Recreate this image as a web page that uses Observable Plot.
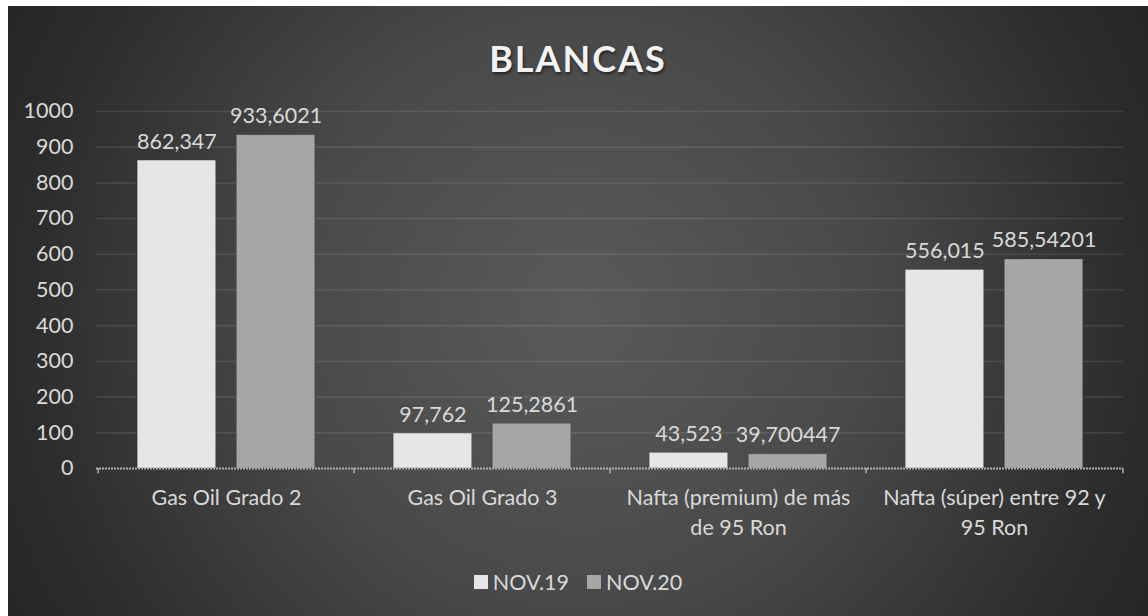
<!DOCTYPE html>
<html>
<head>
<meta charset="utf-8">
<script src="https://cdn.jsdelivr.net/npm/d3@7"></script>
<script src="https://cdn.jsdelivr.net/npm/@observablehq/plot@0.6"></script>
<style>
  html, body { margin: 0; padding: 0; background: #ffffff; }
  #card {
    position: absolute; left: 8px; top: 6px; width: 1140px; height: 610px;
    background: radial-gradient(circle farthest-corner at 50% 50%, #5a5a5a 0%, #494949 45%, #2d2d2d 85%, #262626 100%);
    font-family: Lato, "Open Sans", sans-serif; overflow: hidden;
  }
  #title {
    position: absolute; left: 0; width: 100%; top: 30px; text-align: center;
    font-size: 36px; font-weight: 700; letter-spacing: 2px; color: #f2f2f2;
    text-shadow: 1px 2px 3px rgba(0,0,0,0.55);
  }
  #chart { position: absolute; left: 0; top: 84px; }
  #legend {
    position: absolute; left: 0; width: 100%; top: 562px; text-align: center;
    font-size: 21.5px; color: #d9d9d9;
  }
  #legend .item { display: inline-flex; align-items: center; margin: 0 9px; }
  #legend .sw { width: 14px; height: 14px; display: inline-block; margin-right: 5px; }
</style>
</head>
<body>
<div id="card">
  <div id="title">BLANCAS</div>
  <div id="chart"></div>
  <div id="legend"></div>
</div>
<script>
const categories = ["Gas Oil Grado 2", "Gas Oil Grado 3", "Nafta (premium) de más de 95 Ron", "Nafta (súper) entre 92 y 95 Ron"];
const categoryLabels = ["Gas Oil Grado 2", "Gas Oil Grado 3", "Nafta (premium) de más\nde 95 Ron", "Nafta (súper) entre 92 y\n95 Ron"];
const series = ["NOV.19", "NOV.20"];
const nov19 = [862.347, 97.762, 43.523, 556.015];
const nov20 = [933.6021, 125.2861, 39.700447, 585.54201];
const yTicks = [0, 100, 200, 300, 400, 500, 600, 700, 800, 900, 1000];
const colors = ["#e6e6e6", "#a6a6a6"];

const W = 1140, H = 470, ML = 88, MR = 25, MT = 21, MB = 92;
const FS = 21.5;
const bw = (W - ML - MR) / categories.length;
const barW = 0.308 * bw, gap = 0.078 * bw, outer = (bw - 2 * barW - gap) / 2;
const centerOff = barW / 2 + gap / 2;

const rows = (vals, s) => categories.map((c, i) => ({cat: c, value: vals[i], series: s, label: String(vals[i]).replace(".", ",")}));
const d19 = rows(nov19, series[0]);
const d20 = rows(nov20, series[1]);
const labelOf = new Map(categories.map((c, i) => [c, categoryLabels[i]]));

const plot = Plot.plot({
  width: W, height: H,
  marginLeft: ML, marginRight: MR, marginTop: MT, marginBottom: MB,
  style: {background: "transparent", color: "#d9d9d9", fontFamily: "Lato, 'Open Sans', sans-serif", fontSize: FS + "px"},
  x: {domain: categories, padding: 0, label: null},
  y: {domain: [0, 1000], label: null},
  marks: [
    Plot.ruleY(yTicks.filter(d => d > 0), {stroke: "#ffffff", strokeOpacity: 0.1, strokeWidth: 1.5}),
    Plot.axisY({ticks: yTicks, tickSize: 0, tickPadding: 23, fontSize: FS, fill: "#d9d9d9", tickFormat: d => String(d), label: null}),
    Plot.axisX({tickSize: 0, tickPadding: 16, fontSize: FS, fill: "#d9d9d9", lineHeight: 1.36, tickFormat: d => labelOf.get(d), label: null}),
    Plot.barY(d19, {x: "cat", y: "value", fill: colors[0], insetLeft: outer, insetRight: bw - outer - barW, stroke: "#000", strokeOpacity: 0.15}),
    Plot.barY(d20, {x: "cat", y: "value", fill: colors[1], insetLeft: outer + barW + gap, insetRight: outer, stroke: "#000", strokeOpacity: 0.15}),
    Plot.ruleY([0], {stroke: "#b0b0b0", strokeWidth: 2, strokeDasharray: "2,1"}),
    Plot.ruleX(categories, {x: d => d, y1: 0, y2: -15, dx: -bw / 2, stroke: "#b0b0b0", strokeWidth: 1.5}),
    Plot.ruleX([categories[categories.length - 1]], {x: d => d, y1: 0, y2: -15, dx: bw / 2, stroke: "#b0b0b0", strokeWidth: 1.5}),
    Plot.text(d19, {x: "cat", y: "value", text: "label", dx: -centerOff, dy: -12, fill: "#d9d9d9", fontSize: FS, lineAnchor: "bottom"}),
    Plot.text(d20, {x: "cat", y: "value", text: "label", dx: centerOff, dy: -12, fill: "#d9d9d9", fontSize: FS, lineAnchor: "bottom"})
  ]
});
document.getElementById("chart").appendChild(plot);

const legend = document.getElementById("legend");
series.forEach((s, i) => {
  const item = document.createElement("span");
  item.className = "item";
  const sw = document.createElement("span");
  sw.className = "sw";
  sw.style.background = colors[i];
  item.appendChild(sw);
  item.appendChild(document.createTextNode(s));
  legend.appendChild(item);
});
</script>
</body>
</html>
